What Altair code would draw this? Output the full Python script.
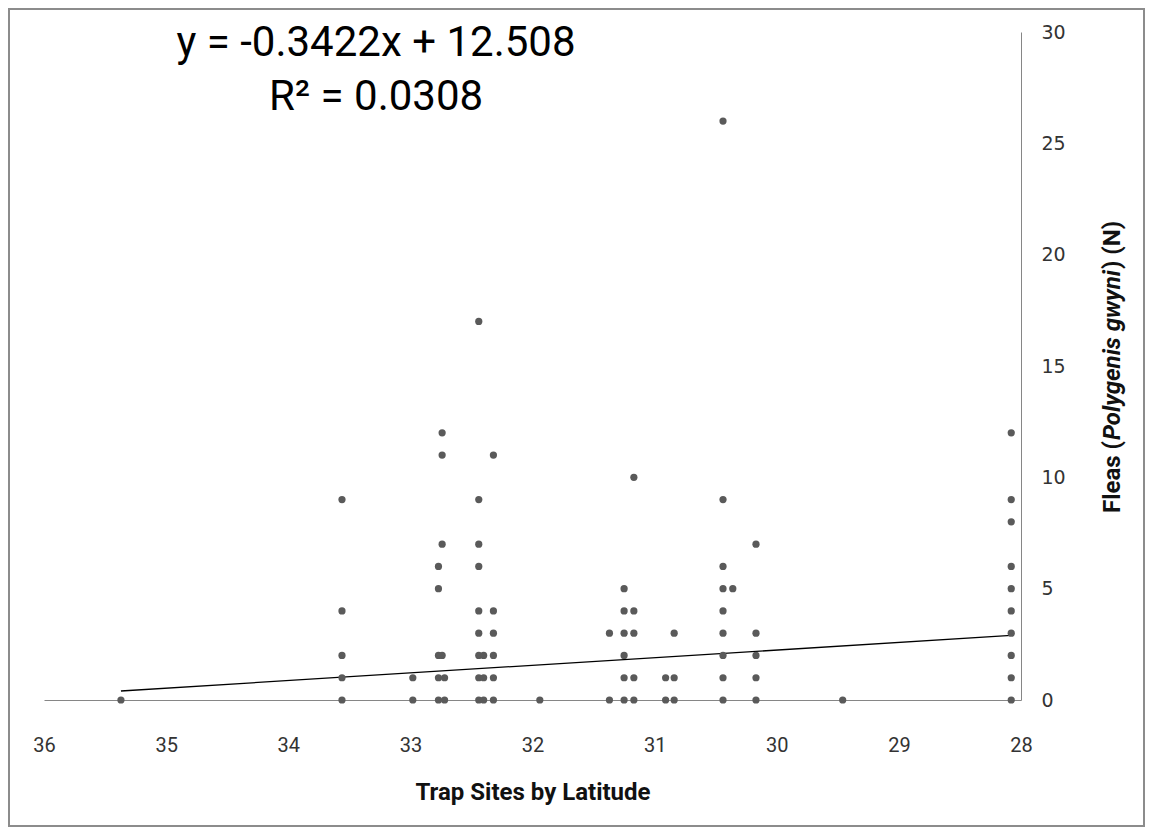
import altair as alt
import pandas as pd

# Trap-site latitudes (one entry per site column) and flea counts observed there
site_lat = [35.37, 33.56, 32.98, 32.77, 32.74, 32.72, 32.44, 32.40, 32.32, 31.94,
            31.37, 31.25, 31.17, 30.91, 30.84, 30.44, 30.36, 30.17, 29.46, 28.08]
site_fleas = [
    [0],
    [0, 1, 2, 4, 9],
    [0, 1],
    [0, 1, 2, 5, 6],
    [2, 7, 11, 12],
    [0, 1],
    [0, 1, 2, 3, 4, 6, 7, 9, 17],
    [0, 1, 2],
    [0, 1, 2, 3, 4, 11],
    [0],
    [0, 3],
    [0, 1, 2, 3, 4, 5],
    [0, 1, 3, 4, 10],
    [0, 1],
    [0, 1, 3],
    [0, 1, 2, 3, 4, 5, 6, 9, 26],
    [5],
    [0, 1, 2, 3, 7],
    [0],
    [0, 1, 2, 3, 4, 5, 6, 8, 9, 12],
]

# Trendline equation shown on the chart
slope = -0.3422
intercept = 12.508
eq_label = "y = -0.3422x + 12.508"
r2_label = "R\u00b2 = 0.0308"

x_ticks = [28, 29, 30, 31, 32, 33, 34, 35, 36]
y_ticks = [0, 5, 10, 15, 20, 25, 30]

lat, fleas = [], []
for la, vals in zip(site_lat, site_fleas):
    for v in vals:
        lat.append(la)
        fleas.append(v)
points = pd.DataFrame({"lat": lat, "fleas": fleas})
trend = pd.DataFrame({"lat": [min(site_lat), max(site_lat)]})

FONT = "Roboto, sans-serif"

xscale = alt.Scale(domain=[28, 36], reverse=True, nice=False, zero=False)
yscale = alt.Scale(domain=[0, 30], nice=False)

xaxis = alt.Axis(values=x_ticks, format="d", grid=False, ticks=False,
                 domainColor="#868686", labelFlush=False,
                 labelFont=FONT, labelFontSize=20, labelColor="#333333",
                 labelPadding=35, title="Trap Sites by Latitude", titleFont=FONT,
                 titleFontSize=24, titleFontWeight="bold", titleColor="#111111",
                 titleY=92, titleBaseline="middle")
yaxis = alt.Axis(orient="right", values=y_ticks, grid=False, ticks=False,
                 domainColor="#868686", labelFont="DejaVu Sans", labelFontSize=19,
                 labelColor="#333333", labelPadding=20, labelFlush=False, title=None)

pts = alt.Chart(points).mark_circle(size=52, color="#5a5a5a", opacity=1).encode(
    x=alt.X("lat:Q", scale=xscale, axis=xaxis),
    y=alt.Y("fleas:Q", scale=yscale, axis=yaxis),
)

line = alt.Chart(trend).transform_calculate(
    fit=f"{slope} * datum.lat + {intercept}"
).mark_line(color="#000000", strokeWidth=1.3).encode(
    x=alt.X("lat:Q", scale=xscale),
    y=alt.Y("fit:Q", scale=yscale),
)

one = pd.DataFrame({"a": [0]})
eq = alt.Chart(one).mark_text(text=eq_label, font=FONT, fontSize=42,
                              color="#000000", align="center",
                              baseline="middle").encode(
    x=alt.value(332), y=alt.value(11))
r2 = alt.Chart(one).mark_text(text=r2_label, font=FONT, fontSize=42,
                              color="#000000", align="center",
                              baseline="middle").encode(
    x=alt.value(332), y=alt.value(65))

TCOL = "#111111"
ytitle_a = alt.Chart(one).mark_text(text="Fleas (", font=FONT, fontSize=24,
                                    fontWeight="bold", angle=270, align="center",
                                    baseline="middle", color=TCOL).encode(
    x=alt.value(1069), y=alt.value(445))
ytitle_b = alt.Chart(one).mark_text(text="Polygenis gwyni", font=FONT, fontSize=24,
                                    fontWeight="bold", fontStyle="italic", angle=270,
                                    align="center", baseline="middle",
                                    color=TCOL).encode(
    x=alt.value(1069), y=alt.value(323))
ytitle_c = alt.Chart(one).mark_text(text=") (N)", font=FONT, fontSize=24,
                                    fontWeight="bold", angle=270, align="center",
                                    baseline="middle", color=TCOL).encode(
    x=alt.value(1069), y=alt.value(213))

border = alt.Chart(one).mark_rect(fillOpacity=0, stroke="#8c8c8c", strokeWidth=2).encode(
    x=alt.value(-35), x2=alt.value(1100), y=alt.value(-23), y2=alt.value(794))

chart = alt.layer(border, line, pts, eq, r2, ytitle_a, ytitle_b, ytitle_c).properties(
    width=977, height=668,
    autosize=alt.AutoSizeParams(type="none"),
    padding={"left": 36, "top": 24, "right": 124, "bottom": 127},
    background="#ffffff",
).configure_view(stroke=None)

chart.save("out.html", embed_options={"renderer": "svg", "actions": False})
